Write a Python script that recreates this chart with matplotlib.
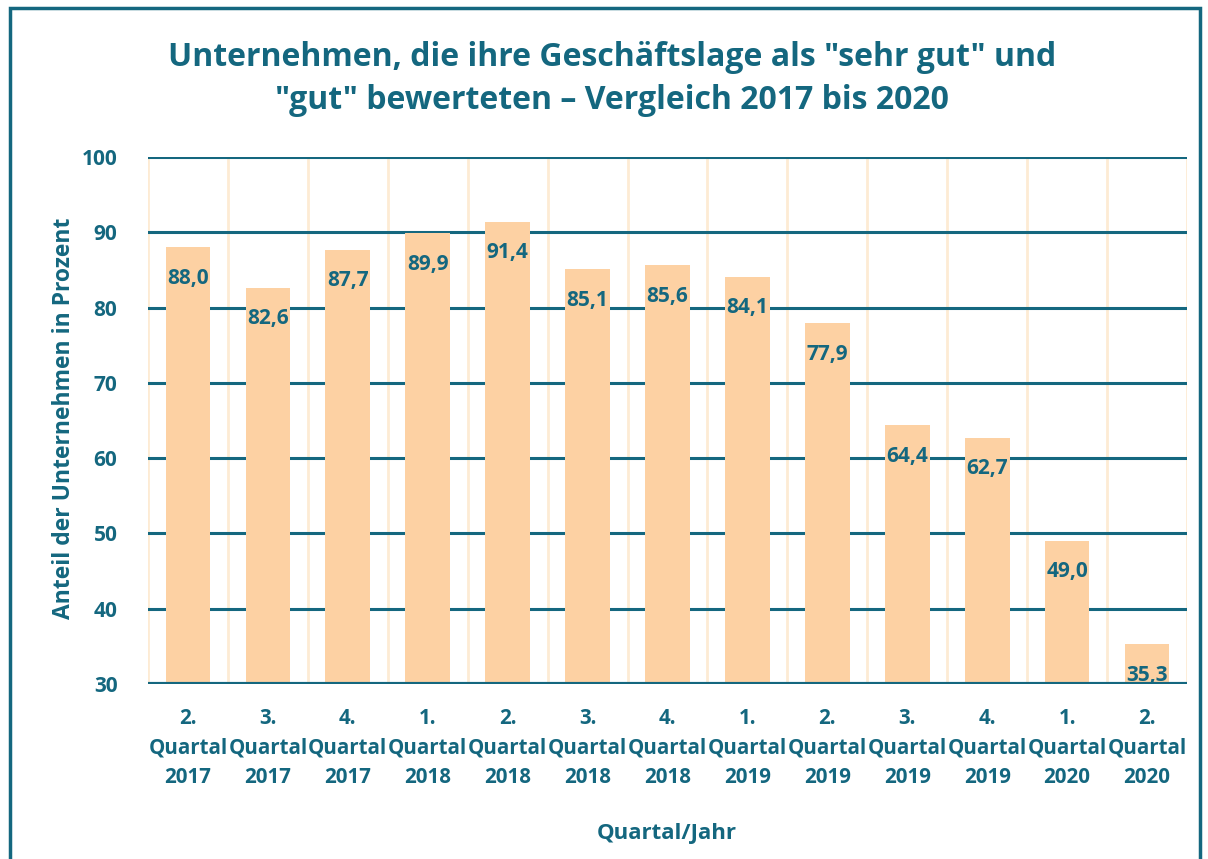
import matplotlib.pyplot as plt
import numpy as np

categories = ["2.\nQuartal\n2017", "3.\nQuartal\n2017", "4.\nQuartal\n2017",
              "1.\nQuartal\n2018", "2.\nQuartal\n2018", "3.\nQuartal\n2018",
              "4.\nQuartal\n2018", "1.\nQuartal\n2019", "2.\nQuartal\n2019",
              "3.\nQuartal\n2019", "4.\nQuartal\n2019", "1.\nQuartal\n2020",
              "2.\nQuartal\n2020"]
values = [88.0, 82.6, 87.7, 89.9, 91.4, 85.1, 85.6, 84.1, 77.9, 64.4, 62.7, 49.0, 35.3]
yticks = [30, 40, 50, 60, 70, 80, 90, 100]

teal = '#14677F'
bar_color = '#FDD1A3'
vgrid_color = '#FDEBD4'

plt.rcParams['font.family'] = ['Open Sans', 'DejaVu Sans']

fig = plt.figure(figsize=(12.08, 8.59), dpi=100)
ax = fig.add_axes([148/1208, 1-684/859, (1187-148)/1208, (684-157)/859])

x = np.arange(len(values))
ax.set_xlim(-0.5, len(values)-0.5)
ax.set_ylim(30, 100)

# horizontal gridlines
for y in yticks:
    ax.axhline(y, color=teal, lw=2.2, zorder=1)
# vertical gridlines at category boundaries
for b in np.arange(-0.5, len(values)+0.5, 1):
    ax.axvline(b, color=vgrid_color, lw=2, zorder=0.5)

ax.bar(x, values, width=0.56, color=bar_color, zorder=2)
ax.axhline(30, color=teal, lw=3, zorder=3)

for xi, v in zip(x, values):
    ax.annotate(f"{v:.1f}".replace('.', ','), (xi, v), xytext=(0, -31),
                textcoords='offset pixels',
                ha='center', va='center', fontsize=15, fontweight='bold',
                color=teal, zorder=4)

for s in ax.spines.values():
    s.set_visible(False)
ax.set_yticks(yticks)
ax.set_yticklabels([str(t) for t in yticks], fontsize=15, fontweight='bold', color=teal)
ax.set_xticks(x)
ax.set_xticklabels(categories, fontsize=14.8, fontweight='bold', color=teal, linespacing=1.55)
ax.tick_params(axis='both', length=0)
ax.tick_params(axis='y', pad=22)
ax.tick_params(axis='x', pad=17)

fig.text(64/1208, 1-418/859, "Anteil der Unternehmen in Prozent", rotation=90,
         ha='center', va='center', fontsize=16.5, fontweight='bold', color=teal)
fig.text(667/1208, 1-833/859, "Quartal/Jahr", ha='center', va='center',
         fontsize=16, fontweight='bold', color=teal)
fig.text(612/1208, 1-79/859,
         "Unternehmen, die ihre Geschäftslage als \"sehr gut\" und\n\"gut\" bewerteten – Vergleich 2017 bis 2020",
         ha='center', va='center', fontsize=23, fontweight='bold', color=teal, linespacing=1.38)

# figure border
border = plt.Rectangle((10/1208, -0.05), (1200-10)/1208, 1-8/859+0.05, transform=fig.transFigure,
                       fill=False, edgecolor=teal, lw=2.5)
fig.patches.append(border)

fig.savefig('out.png', dpi=100)
